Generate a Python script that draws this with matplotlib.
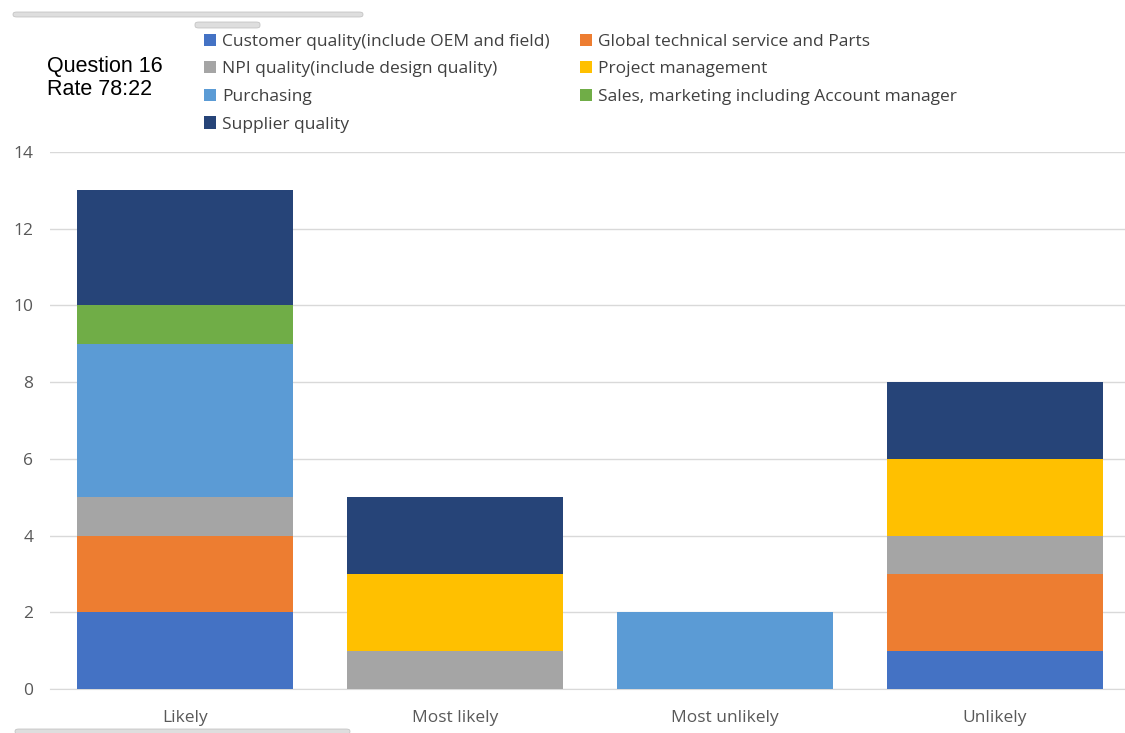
import matplotlib.pyplot as plt
from matplotlib.patches import FancyBboxPatch

# Data
categories = ['Likely', 'Most likely', 'Most unlikely', 'Unlikely']
series_names = [
    'Customer quality(include OEM and field)',
    'Global technical service and Parts',
    'NPI quality(include design quality)',
    'Project management',
    'Purchasing',
    'Sales, marketing including Account manager',
    'Supplier quality',
]
customer_quality = [2, 0, 0, 1]
global_technical = [2, 0, 0, 2]
npi_quality = [1, 1, 0, 1]
project_management = [0, 2, 0, 2]
purchasing = [4, 0, 2, 0]
sales_marketing = [1, 0, 0, 0]
supplier_quality = [3, 2, 0, 2]
y_ticks = [0, 2, 4, 6, 8, 10, 12, 14]

series = [customer_quality, global_technical, npi_quality, project_management,
          purchasing, sales_marketing, supplier_quality]
colors = ['#4472C4', '#ED7D31', '#A5A5A5', '#FFC000', '#5B9BD5', '#70AD47', '#264478']

plt.rcParams['font.family'] = ['Open Sans', 'DejaVu Sans']

fig = plt.figure(figsize=(11.25, 7.33), dpi=100)
ax = fig.add_axes([50 / 1125, 44 / 733, 1080 / 1125, 537 / 733])

x = range(len(categories))
bottom = [0] * len(categories)
handles = []
for name, vals, col in zip(series_names, series, colors):
    bars = ax.bar(x, vals, width=0.8, bottom=bottom, color=col, label=name, zorder=3)
    handles.append(bars)
    bottom = [b + v for b, v in zip(bottom, vals)]

ax.set_xlim(-0.5, 3.5)
ax.set_ylim(0, 14)
ax.set_yticks(y_ticks)
ax.set_xticks(list(x))
ax.set_xticklabels(categories)
ax.grid(axis='y', color='#D9D9D9', linewidth=1, zorder=0)
for s in ['top', 'right', 'left']:
    ax.spines[s].set_visible(False)
ax.spines['bottom'].set_color('#D9D9D9')
ax.tick_params(axis='both', length=0, colors='#595959', labelsize=12.5)
ax.tick_params(axis='y', pad=12)
ax.tick_params(axis='x', pad=15)

# legend, row-major order in two columns
order = [0, 2, 4, 6, 1, 3, 5]
leg = fig.legend([handles[i] for i in order], [series_names[i] for i in order],
                 ncol=2, loc='upper left', bbox_to_anchor=(188 / 1125, 1 - 18 / 733),
                 frameon=False, fontsize=12.5, handlelength=0.7, handleheight=0.7,
                 handletextpad=0.35, columnspacing=1.75, labelspacing=0.66,
                 labelcolor='#404040')

fig.text(47 / 1125, 1 - 78 / 733, 'Question 16\nRate 78:22', family='Liberation Sans',
         fontsize=15.5, va='center', ha='left', linespacing=1.1)

# screenshot UI strips
for (x0, y0, w, h) in [(13, 12, 350, 5), (195, 22, 65, 6), (15, 729, 335, 5)]:
    fig.patches.append(FancyBboxPatch((x0 / 1125, 1 - (y0 + h) / 733), w / 1125, h / 733,
                                      boxstyle='round,pad=0,rounding_size=0.003',
                                      transform=fig.transFigure, facecolor='#DEDEDE',
                                      edgecolor='#BDBDBD', linewidth=0.5))

fig.savefig('out.png', dpi=100)
